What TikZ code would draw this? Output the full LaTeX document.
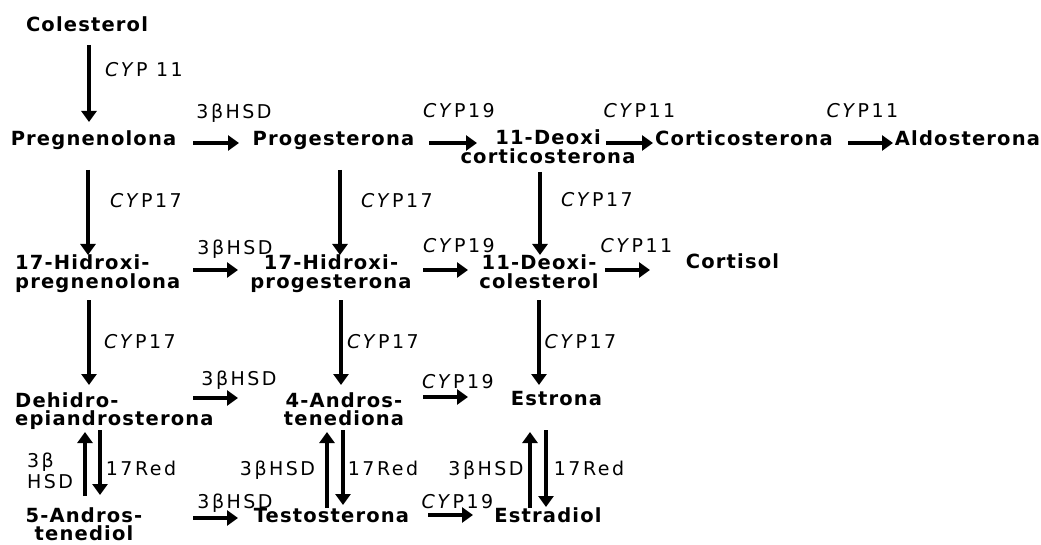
\documentclass[tikz,border=0pt]{standalone}
\usepackage{fontspec}
\setmainfont{DejaVu Sans}[LetterSpace=6]
\newfontfamily\labfont{DejaVu Sans}[LetterSpace=13]
\usetikzlibrary{arrows.meta,calc}
\newcommand\cyp{\textit{CY}P}
\begin{document}
\begin{tikzpicture}[x=1pt,y=-1pt,
  mol/.style={inner sep=0pt, anchor=base, font=\fontsize{19.5}{18.5}\selectfont\bfseries, align=center},
  lab/.style={inner sep=0pt, anchor=base, font=\labfont\fontsize{19}{21}\selectfont, align=left},
  arr/.style={line width=4.5pt, -{Triangle[length=11pt,width=15pt]}},
  ]
\useasboundingbox (0,0) rectangle (1041,545);
% molecules (base = baseline of last line)
\node[mol] (col) at (87,32) {Colesterol};
\node[mol] (preg) at (93.5,146) {Pregnenolona};
\node[mol] (prog) at (333.5,146) {Progesterona};
\node[mol] (doc) at (548,163.5) {11-Deoxi\\corticosterona};
\node[mol] (cort) at (744,146) {Corticosterona};
\node[mol] (aldo) at (967.5,146) {Aldosterona};
\node[mol, anchor=base west, align=left] (hpreg) at (15,288.5) {17-Hidroxi-\\pregnenolona};
\node[mol] (hprog) at (331,288.5) {17-Hidroxi-\\progesterona};
\node[mol] (dcol) at (539,288.5) {11-Deoxi-\\colesterol};
\node[mol] (cortisol) at (732.5,269) {Cortisol};
\node[mol, anchor=base west, align=left] (dhea) at (15,425.5) {Dehidro-\\epiandrosterona};
\node[mol] (andro) at (344,425.5) {4-Andros-\\tenediona};
\node[mol] (estrona) at (556.5,405) {Estrona};
\node[mol] (adiol) at (84,540.5) {5-Andros-\\tenediol};
\node[mol] (testo) at (331.5,522) {Testosterona};
\node[mol] (estradiol) at (548,522) {Estradiol};
% enzyme labels
\node[lab] (l1) at (144,77) {\cyp\ 11};
\node[lab] (l2) at (234,119) {3βHSD};
\node[lab] (l3) at (459,118) {\cyp19};
\node[lab] (l4) at (639.5,118) {\cyp11};
\node[lab] (l5) at (862.5,118) {\cyp11};
\node[lab] (l6) at (146,208) {\cyp17};
\node[lab] (l7) at (397,208) {\cyp17};
\node[lab] (l8) at (597,207) {\cyp17};
\node[lab] (l9) at (235,255) {3βHSD};
\node[lab] (l10) at (459,253) {\cyp19};
\node[lab] (l11) at (636.5,253) {\cyp11};
\node[lab] (l12) at (140,348) {\cyp17};
\node[lab] (l13) at (383,348) {\cyp17};
\node[lab] (l14) at (580.5,348) {\cyp17};
\node[lab] (l15) at (239,385) {3βHSD};
\node[lab] (l16) at (458,388) {\cyp19};
\node[lab, anchor=base west] (l17) at (27,488) {3β\\HSD};
\node[lab] (l18) at (141,475) {17Red};
\node[lab] (l19) at (277.5,475) {3βHSD};
\node[lab] (l20) at (383,475) {17Red};
\node[lab] (l21) at (486,475) {3βHSD};
\node[lab] (l22) at (589,475) {17Red};
\node[lab] (l23) at (235,508) {3βHSD};
\node[lab] (l24) at (457.5,508) {\cyp19};
% arrows
\draw[arr] ($(col.base)+(2,13)$) -- ($(preg.base)+(-4.5,-24)$);
\draw[arr] ($(preg.base)+(99.5,-3)$) -- ($(prog.base)+(-94.5,-3)$);
\draw[arr] ($(prog.base)+(95.5,-3)$) -- ($(doc.base)+(-71,-20.5)$);
\draw[arr] ($(doc.base)+(58,-20.5)$) -- ($(cort.base)+(-91,-3)$);
\draw[arr] ($(cort.base)+(104,-3)$) -- ($(aldo.base)+(-74.5,-3)$);
\draw[arr] ($(preg.base)+(-5.5,24)$) -- ($(hpreg.base west)+(73,-33.5)$);
\draw[arr] ($(prog.base)+(6.5,24)$) -- ($(hprog.base)+(9,-33.5)$);
\draw[arr] ($(doc.base)+(-8,8.5)$) -- ($(dcol.base)+(1,-33.5)$);
\draw[arr] ($(hpreg.base west)+(178,-18.5)$) -- ($(hprog.base)+(-93,-18.5)$);
\draw[arr] ($(hprog.base)+(92,-18.5)$) -- ($(dcol.base)+(-71,-18.5)$);
\draw[arr] ($(dcol.base)+(66,-18.5)$) -- ($(cortisol.base)+(-82.5,1)$);
\draw[arr] ($(hpreg.base west)+(74,11.5)$) -- ($(dhea.base west)+(74,-40.5)$);
\draw[arr] ($(hprog.base)+(10,11.5)$) -- ($(andro.base)+(-3,-40.5)$);
\draw[arr] ($(dcol.base)+(0,11.5)$) -- ($(estrona.base)+(-17.5,-20)$);
\draw[arr] ($(dhea.base west)+(178,-27.5)$) -- ($(andro.base)+(-106,-27.5)$);
\draw[arr] ($(andro.base)+(79,-28.5)$) -- ($(estrona.base)+(-88.5,-8)$);
\draw[arr] ($(adiol.base)+(1,-44.5)$) -- ($(dhea.base west)+(70,6.5)$);
\draw[arr] ($(dhea.base west)+(85,4.5)$) -- ($(adiol.base)+(16,-45.5)$);
\draw[arr] ($(testo.base)+(-4.5,-14)$) -- ($(andro.base)+(-17,6.5)$);
\draw[arr] ($(andro.base)+(-1,4.5)$) -- ($(testo.base)+(11.5,-17)$);
\draw[arr] ($(estradiol.base)+(-18,-14)$) -- ($(estrona.base)+(-26.5,27)$);
\draw[arr] ($(estrona.base)+(-10.5,25)$) -- ($(estradiol.base)+(-2,-15)$);
\draw[arr] ($(adiol.base)+(109,-22.5)$) -- ($(testo.base)+(-93.5,-4)$);
\draw[arr] ($(testo.base)+(96.5,-7)$) -- ($(estradiol.base)+(-75,-7)$);
\end{tikzpicture}
\end{document}
